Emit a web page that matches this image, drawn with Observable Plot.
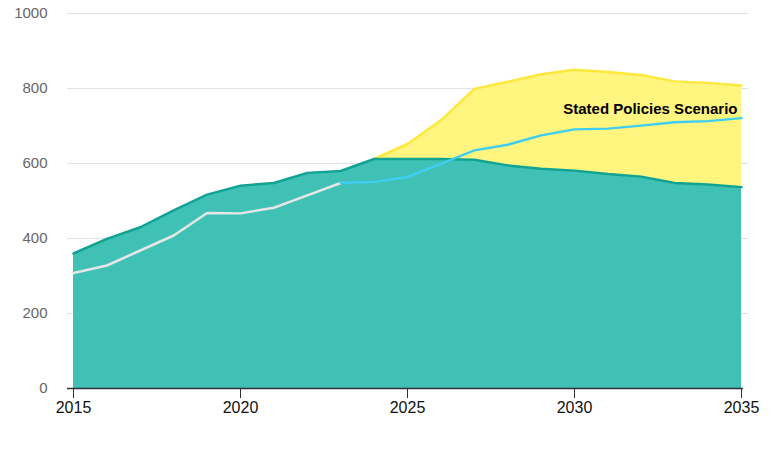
<!DOCTYPE html>
<html>
<head>
<meta charset="utf-8">
<script src="https://cdn.jsdelivr.net/npm/d3@7"></script>
<script src="https://cdn.jsdelivr.net/npm/@observablehq/plot@0.6"></script>
<style>
  html, body { margin: 0; padding: 0; background: #fff; }
  svg { display: block; }
</style>
</head>
<body>
<div id="chart"></div>
<script>
const years = [2015,2016,2017,2018,2019,2020,2021,2022,2023,2024,2025,2026,2027,2028,2029,2030,2031,2032,2033,2034,2035];
const tealValues = [360,399,430,475,517,541,548,575,580,612,612,612,610,595,586,581,572,565,548,544,537];
const yellowYears = [2024,2025,2026,2027,2028,2029,2030,2031,2032,2033,2034,2035];
const yellowValues = [612,652,715,799,818,838,850,844,836,819,815,808];
const historyYears = [2015,2016,2017,2018,2019,2020,2021,2022,2023];
const historyValues = [308,328,368,408,468,467,482,515,548];
const stepsYears = [2023,2024,2025,2026,2027,2028,2029,2030,2031,2032,2033,2034,2035];
const stepsValues = [548,551,564,599,635,650,675,691,693,701,710,713,721];
const yTicks = [0,200,400,600,800,1000];
const xTicks = [2015,2020,2025,2030,2035];
const labelText = "Stated Policies Scenario";

const teal = years.map((x, i) => ({x, y: tealValues[i]}));
const yellow = yellowYears.map((x, i) => ({x, y: yellowValues[i]}));
const history = historyYears.map((x, i) => ({x, y: historyValues[i]}));
const steps = stepsYears.map((x, i) => ({x, y: stepsValues[i]}));

const chart = Plot.plot({
  width: 775,
  height: 452,
  marginLeft: 73,
  marginRight: 34,
  marginTop: 13,
  marginBottom: 64,
  style: {fontFamily: "Arial, 'Liberation Sans', sans-serif", background: "#fff"},
  x: {domain: [2015, 2035]},
  y: {domain: [0, 1000]},
  marks: [
    Plot.ruleY(yTicks.filter(d => d > 0), {stroke: "#e2e2e2", strokeWidth: 1, insetLeft: -6, insetRight: -7}),
    Plot.areaY(yellow, {x: "x", y: "y", fill: "#fff57f", curve: "linear"}),
    Plot.lineY(yellow, {x: "x", y: "y", stroke: "#ffe83d", strokeWidth: 2.5}),
    Plot.areaY(teal, {x: "x", y: "y", fill: "#40c1b6"}),
    Plot.lineY(teal, {x: "x", y: "y", stroke: "#10a393", strokeWidth: 2.5}),
    Plot.lineY(history, {x: "x", y: "y", stroke: "#e6e6e6", strokeWidth: 2.5}),
    Plot.lineY(steps, {x: "x", y: "y", stroke: "#3fcdf2", strokeWidth: 2.5}),
    Plot.ruleY([0], {stroke: "#333", strokeWidth: 1.5, insetLeft: -6, insetRight: -2}),
    Plot.axisY({ticks: yTicks, tickSize: 0, tickPadding: 26, fontSize: 15, color: "#666", label: null, tickFormat: d => String(d)}),
    Plot.axisX({ticks: xTicks, tickSize: 10, tickPadding: 3, fontSize: 16, color: "#111", label: null, tickFormat: d => String(d), stroke: "#333"}),
    Plot.text([labelText], {x: 2035, y: 746, text: d => d, textAnchor: "end", dx: -4, fontSize: 15, fontWeight: "bold", fill: "#000"})
  ]
});
document.getElementById("chart").appendChild(chart);
</script>
</body>
</html>
